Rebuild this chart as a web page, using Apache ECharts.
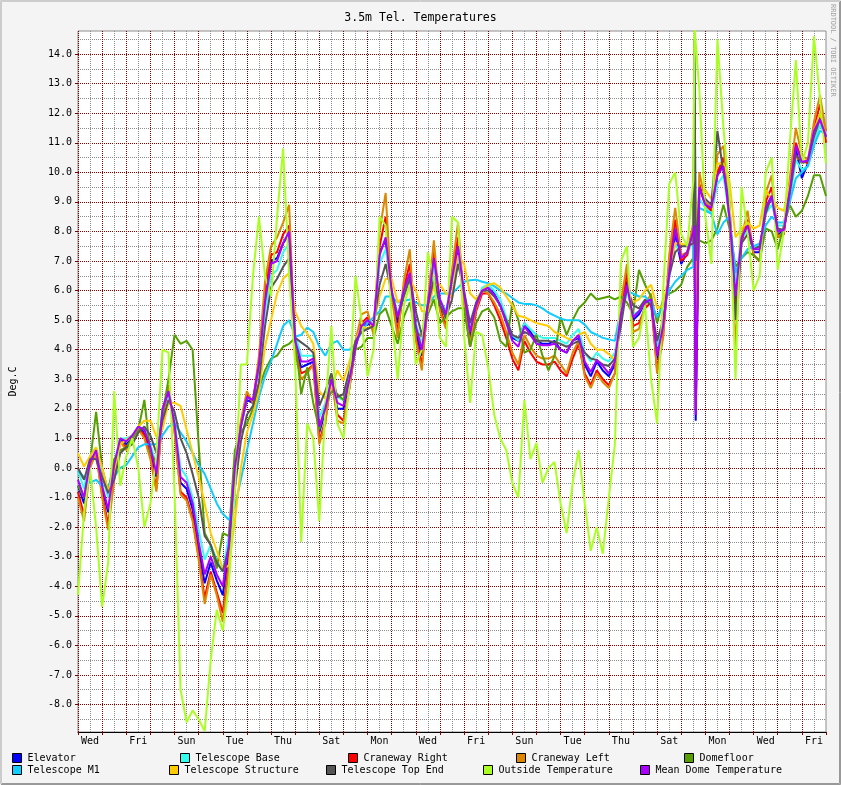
<!DOCTYPE html>
<html><head><meta charset="utf-8">
<script src="https://cdn.jsdelivr.net/npm/echarts@6/dist/echarts.min.js"></script>
<style>html,body{margin:0;padding:0;background:#f4f4f4}#c{width:841px;height:785px}</style>
</head><body><div id="c"></div>
<script>
const chartTitle = '3.5m Tel. Temperatures';
const yAxisName = 'Deg.C';
const creditText = 'RRDTOOL / TOBI OETIKER';
// labels shown at noon of every second day
const dayLabels = ['Wed','Fri','Sun','Tue','Thu','Sat','Mon','Wed','Fri','Sun','Tue','Thu','Sat','Mon','Wed','Fri'];

// sample times in days from the start (quarter-day samples + two samples inside the short glitch)
const sampleDays = [];
for (let i = 0; i <= 102; i++) sampleDays.push(i / 4);
sampleDays.push(25.55, 25.6);
for (let i = 103; i <= 124; i++) sampleDays.push(i / 4);

const elevator = [
-0.6,-1.2,0.2,0.5,-0.7,-1.5,0.0,1.0,0.8,1.0,
1.4,1.2,0.6,-0.3,1.9,2.6,1.4,-0.5,-0.7,-1.4,
-2.7,-3.9,-3.2,-3.8,-4.3,-2.8,0.1,1.4,2.3,2.2,
3.5,5.7,7.0,7.1,7.6,7.9,4.1,3.4,3.5,3.6,
1.2,1.9,3.0,2.0,2.0,2.9,4.1,4.8,4.9,4.7,
7.3,7.7,5.9,4.9,6.0,6.5,4.6,3.8,5.5,7.0,
5.5,5.1,6.4,7.4,5.7,4.4,5.4,6.0,6.1,5.9,
5.5,5.0,4.4,4.3,4.9,4.6,4.3,4.2,4.2,4.3,
4.0,3.9,4.3,4.4,3.5,3.1,3.6,3.3,3.1,3.5,
5.2,6.3,5.0,5.2,5.6,5.7,3.7,4.7,6.7,7.9,
6.9,7.3,8.0,8.3,1.6,9.5,8.9,8.8,9.9,10.3,
8.4,5.7,7.7,8.2,7.3,7.3,8.8,9.2,7.9,8.0,
9.4,10.8,9.8,10.3,11.3,11.9,11.4];

const telescopeBase = [
-0.1,-0.7,0.4,0.7,-0.3,-1.0,0.2,1.0,1.0,1.1,
1.4,1.3,0.8,0.1,2.0,2.4,1.6,0.0,-0.3,-1.0,
-2.1,-3.1,-2.6,-3.1,-3.5,-2.3,0.2,1.4,2.4,2.3,
3.4,5.3,6.5,6.7,7.3,7.6,4.5,3.8,3.8,3.8,
1.7,2.2,3.0,2.4,2.3,3.1,4.1,4.8,5.0,4.9,
6.9,7.4,6.0,5.2,5.9,6.4,4.9,4.2,5.4,6.9,
5.7,5.3,6.3,7.2,5.9,4.8,5.5,6.1,6.2,6.0,
5.7,5.1,4.5,4.3,4.9,4.7,4.5,4.4,4.4,4.4,
4.3,4.2,4.5,4.7,3.9,3.6,3.9,3.7,3.6,3.9,
5.1,6.0,5.2,5.3,5.6,5.6,4.1,4.9,6.4,7.6,
7.2,7.2,7.8,10.5,4.5,9.1,8.8,8.6,9.6,9.9,
8.5,6.3,7.8,8.0,7.5,7.5,8.6,8.9,8.2,8.2,
9.1,10.4,10.1,10.2,11.0,11.6,11.2];

const cranewayRight = [
-0.8,-1.6,0.1,0.5,-0.9,-1.9,-0.3,0.9,0.7,1.0,
1.4,1.1,0.4,-0.7,1.8,2.7,1.3,-0.8,-1.0,-1.7,
-3.0,-4.4,-3.5,-4.2,-4.9,-3.2,-0.2,1.5,2.5,2.2,
3.6,6.0,7.2,7.3,7.9,8.2,4.0,3.2,3.3,3.5,
0.9,1.6,3.0,1.8,1.6,2.7,4.1,4.9,5.1,4.6,
7.5,8.5,5.9,4.6,6.1,6.9,4.4,3.5,5.5,7.3,
5.4,4.8,6.5,7.8,5.6,4.1,5.3,5.9,5.9,5.5,
5.0,4.4,3.7,3.3,4.3,3.9,3.6,3.5,3.5,3.6,
3.3,3.1,3.7,4.2,3.2,2.8,3.3,3.0,2.8,3.2,
5.3,6.6,4.8,4.9,5.4,5.6,3.3,4.5,6.9,8.4,
7.0,7.2,8.1,8.6,2.0,9.6,8.9,8.7,10.0,10.5,
8.5,5.2,7.7,8.4,7.2,7.0,9.0,9.5,7.8,7.9,
9.5,11.0,10.4,10.3,11.5,12.3,11.0];

const cranewayLeft = [
-1.0,-1.8,0.0,0.5,-1.0,-2.1,-0.4,0.9,0.6,1.0,
1.3,1.0,0.3,-0.8,1.8,2.8,1.2,-0.9,-1.1,-1.8,
-3.1,-4.6,-3.6,-4.3,-5.2,-3.4,-0.3,1.6,2.6,2.2,
3.8,6.3,7.5,7.8,8.3,8.9,3.9,3.0,3.2,3.5,
0.8,1.5,3.1,1.6,1.5,2.7,4.3,5.2,5.3,4.5,
8.0,9.3,5.8,4.4,6.3,7.4,4.3,3.3,5.7,7.7,
5.3,4.7,6.7,8.3,5.6,4.2,5.4,6.0,5.9,5.6,
5.2,4.6,3.9,3.5,4.5,4.1,3.8,3.7,3.7,3.8,
3.5,3.2,3.9,4.3,3.1,2.7,3.2,2.9,2.7,3.2,
5.6,6.9,4.6,4.7,5.5,5.9,3.2,4.4,7.2,8.8,
7.2,7.3,8.3,12.4,5.0,10.0,9.0,8.8,10.6,10.9,
8.6,4.1,7.8,8.7,7.2,7.0,9.3,9.9,7.8,8.0,
9.8,11.5,10.6,10.4,11.7,12.6,11.4];

const domefloor = [
-0.6,-1.0,0.2,1.9,0.0,-0.8,0.3,0.6,0.7,1.0,
1.3,2.3,0.5,0.2,1.8,3.0,4.5,4.2,4.3,4.0,
0.8,-2.2,-2.6,-3.4,-2.2,-2.3,0.6,1.2,1.5,2.0,
2.7,3.3,3.7,3.8,4.1,4.2,4.4,2.5,3.4,2.2,
1.3,2.1,2.6,2.5,2.3,3.0,4.0,4.1,4.4,4.4,
5.2,5.4,4.8,4.2,5.1,5.6,4.6,4.45,5.2,5.7,
4.9,5.1,5.3,5.4,5.4,4.1,4.9,5.3,5.4,5.1,
4.3,4.1,5.6,5.0,3.9,4.0,4.5,3.8,3.3,3.8,
5.1,4.5,5.0,5.4,5.6,5.9,5.7,5.75,5.8,5.7,
5.8,5.6,5.2,6.7,6.2,5.8,4.9,5.7,5.9,6.0,
6.2,6.8,7.1,12.0,7.3,7.7,7.6,7.7,8.1,8.9,
8.1,6.8,7.1,7.3,7.2,7.0,8.1,8.0,7.4,8.2,
8.9,8.5,8.7,9.2,9.9,9.9,9.2];

const telescopeM1 = [
-0.1,-0.3,-0.5,-0.4,-0.6,-0.6,-0.3,0.0,0.1,0.4,
0.7,0.8,0.8,0.8,1.1,1.4,1.5,1.2,0.9,0.5,
0.1,-0.2,-0.7,-1.2,-1.55,-1.75,-1.3,-0.4,0.6,1.5,
2.4,3.1,3.6,4.2,4.8,5.0,4.45,4.5,4.75,4.6,
4.1,3.8,4.2,4.3,4.0,4.0,4.2,4.6,4.9,5.1,
5.3,5.8,5.8,5.6,5.65,5.7,5.6,5.5,5.5,5.8,
5.9,5.9,5.9,6.1,6.3,6.35,6.37,6.3,6.25,6.15,
6.0,5.9,5.75,5.6,5.55,5.55,5.5,5.4,5.25,5.15,
5.05,5.0,5.0,5.0,4.85,4.6,4.5,4.4,4.35,4.3,
5.4,6.0,5.9,5.8,5.8,5.6,5.1,5.5,6.0,6.3,
6.5,6.7,6.8,13.7,7.5,8.8,8.7,8.6,7.9,8.3,
8.5,6.6,7.1,7.4,7.5,7.6,8.2,8.5,8.3,8.3,
9.0,9.8,10.0,10.2,10.9,11.4,11.3];

const telescopeStructure = [
0.5,0.05,0.4,0.7,0.0,-0.8,-0.1,0.8,0.95,1.1,
1.4,1.6,1.6,1.05,1.3,2.2,2.2,2.1,1.3,0.5,
-0.3,-1.2,-2.2,-2.8,-3.4,-3.3,-1.8,0.0,1.2,1.8,
2.6,4.1,5.0,5.9,6.4,6.6,5.3,4.8,4.55,4.2,
2.6,2.35,2.7,3.3,2.95,3.6,4.3,4.8,4.7,4.9,
5.8,6.4,6.4,5.6,5.8,6.4,6.0,5.3,5.3,6.2,
6.2,5.9,5.8,7.2,6.9,5.9,5.7,6.0,6.2,6.25,
6.1,5.8,5.5,5.15,5.1,5.0,4.9,4.85,4.8,4.6,
4.5,4.4,4.3,4.5,4.6,4.2,4.0,4.0,3.85,3.65,
5.3,6.1,5.6,5.7,6.0,6.2,5.4,5.5,6.6,7.6,
7.6,7.5,7.6,11.0,8.0,9.2,9.4,9.1,10.3,10.3,
9.7,7.8,8.1,8.3,8.1,8.2,9.4,9.1,8.8,8.7,
9.6,10.5,10.4,10.4,11.4,12.0,11.2];

const telescopeTopEnd = [
0.0,-0.4,0.3,0.3,-0.3,-0.85,-0.4,0.5,0.7,0.8,
1.2,1.4,1.1,0.5,1.6,2.3,1.9,1.0,0.5,-0.2,
-1.0,-2.3,-2.6,-3.2,-3.5,-2.7,-0.7,0.9,1.8,2.1,
2.9,4.8,6.1,6.4,6.8,7.1,4.4,4.25,4.1,3.9,
2.1,2.6,3.2,2.4,2.5,3.3,4.3,4.6,4.7,4.8,
6.2,6.9,5.9,5.1,5.8,6.4,5.3,4.5,5.5,6.4,
5.5,5.1,5.7,6.9,6.0,4.9,5.6,6.0,6.0,5.8,
5.5,5.0,4.5,4.4,4.6,4.5,4.3,4.3,4.3,4.25,
4.2,4.1,4.2,4.3,3.9,3.7,3.65,3.5,3.45,3.7,
4.8,6.1,5.5,5.4,5.7,5.5,4.3,5.0,6.5,7.3,
7.5,7.5,7.6,14.5,7.0,9.4,9.1,8.9,11.4,10.0,
9.0,5.0,7.6,7.9,7.4,7.5,8.6,9.2,8.1,8.05,
9.3,10.6,10.3,10.4,11.2,11.8,11.2];

const outsideTemperature = [
-4.3,-1.5,0.0,-2.0,-4.7,-3.2,2.6,-0.6,0.4,1.0,
0.0,-2.0,-1.2,0.4,4.0,3.9,-0.8,-7.5,-8.6,-8.2,
-8.5,-8.9,-6.5,-4.8,-5.5,-4.0,-0.8,3.5,3.5,6.5,
8.5,6.5,5.8,8.5,10.8,6.5,3.5,-2.5,1.5,1.0,
-1.8,2.0,4.8,1.5,1.0,2.8,6.5,5.0,3.1,4.0,
8.5,8.2,5.1,3.0,5.5,6.2,3.5,4.0,7.3,6.4,
4.4,4.1,8.5,8.3,4.5,2.2,4.6,4.5,3.4,1.8,
1.0,0.6,-0.5,-1.0,2.3,0.3,0.85,-0.5,0.0,0.2,
-1.2,-2.2,-0.5,0.6,-1.2,-2.8,-2.0,-2.9,-1.0,0.8,
7.0,7.5,4.1,4.4,5.5,3.0,1.5,6.0,9.6,10.0,
7.9,7.5,9.7,14.9,14.9,12.8,8.5,6.9,14.5,11.5,
9.2,3.0,9.5,8.0,6.0,6.5,10.0,10.5,6.7,8.0,
11.0,13.8,10.3,11.0,14.6,12.5,10.3];

const meanDomeTemperature = [
-0.4,-1.0,0.2,0.6,-0.6,-1.4,0.1,1.0,0.9,1.1,
1.4,1.3,0.7,-0.2,2.0,2.6,1.5,-0.3,-0.5,-1.2,
-2.5,-3.6,-3.0,-3.6,-4.0,-2.6,0.0,1.4,2.4,2.3,
3.5,5.6,6.9,7.0,7.6,8.0,4.3,3.6,3.6,3.7,
1.4,2.0,3.0,2.2,2.1,3.0,4.1,4.8,5.0,4.8,
7.2,7.8,6.0,5.1,6.0,6.6,4.8,4.0,5.5,7.1,
5.7,5.2,6.4,7.5,5.9,4.6,5.5,6.0,6.1,5.85,
5.5,4.9,4.3,4.1,4.8,4.5,4.2,4.15,4.15,4.2,
4.0,3.9,4.3,4.5,3.6,3.25,3.65,3.45,3.2,3.6,
5.2,6.2,5.1,5.3,5.6,5.7,3.8,4.8,6.6,8.1,
7.1,7.3,8.0,8.2,1.8,9.5,8.9,8.8,9.9,10.2,
8.5,5.8,7.8,8.2,7.4,7.4,8.8,9.2,8.0,8.05,
9.4,10.9,10.35,10.4,11.4,11.8,11.2];

const seriesNames = ['Elevator','Telescope Base','Craneway Right','Craneway Left','Domefloor',
  'Telescope M1','Telescope Structure','Telescope Top End','Outside Temperature','Mean Dome Temperature'];
const seriesValues = [elevator, telescopeBase, cranewayRight, cranewayLeft, domefloor,
  telescopeM1, telescopeStructure, telescopeTopEnd, outsideTemperature, meanDomeTemperature];

// styles / layout
const colors = ['#0000ff','#33ffee','#ff0000','#dd8800','#55a000','#11ccff','#ffcc00','#555555','#aaff22','#aa00ff'];
const legendPos = [[12,753],[180,753],[348,753],[516,753],[684,753],[12,765],[169,765],[326,765],[483,765],[640,765]];
const FONT = 'DejaVu Sans Mono';
const MAJOR = '#800000', MINOR = '#8c8c8c';
const Y_MIN = -8.93, Y_MAX = 14.78;

const chart = echarts.init(document.getElementById('c'), null, {renderer: 'canvas'});

const series = seriesNames.map((n, k) => ({
  name: n, type: 'line', xAxisIndex: 1, yAxisIndex: 1,
  data: sampleDays.map((d, i) => [d, seriesValues[k][i]]),
  showSymbol: false, symbol: 'none', clip: true, animation: false, silent: true,
  lineStyle: {width: 2, color: colors[k]}, itemStyle: {color: colors[k]}
}));

const legends = seriesNames.map((n, k) => ({
  data: [{name: n, itemStyle: {color: colors[k], borderColor: '#000', borderWidth: 1}}],
  left: legendPos[k][0], top: legendPos[k][1], padding: 0, icon: 'rect',
  itemWidth: 9, itemHeight: 9, selectedMode: false,
  textStyle: {fontFamily: FONT, fontSize: 10, color: '#000', padding: [0,0,0,1]}
}));

const option = {
  backgroundColor: '#f4f4f4',
  animation: false,
  title: {text: chartTitle, left: 'center', top: 7,
    textStyle: {fontFamily: FONT, fontSize: 11.5, fontWeight: 'normal', color: '#000'}},
  legend: legends,
  grid: {left: 75, right: 15, top: 31, bottom: 53, show: true, backgroundColor: '#fff',
    borderColor: '#8c8c8c', borderWidth: 1},
  xAxis: [
    {type: 'value', min: 0, max: 31, interval: 0.5, position: 'bottom',
     axisLine: {show: false, onZero: false}, axisTick: {show: false},
     splitLine: {show: true, showMinLine: false, showMaxLine: false, lineStyle: {color: MINOR, width: 1, type: [1,1]}},
     axisLabel: {show: true, interval: 0, hideOverlap: false, margin: 4, fontFamily: FONT, fontSize: 10, color: '#000',
       formatter: v => { const k = (v - 0.5) / 2; const r = Math.round(k);
         return (Math.abs(k - r) < 1e-6 && r >= 0 && r < dayLabels.length) ? dayLabels[r] : ''; }}},
    {type: 'value', min: 0, max: 31, interval: 1, position: 'bottom',
     axisLine: {show: true, onZero: false, lineStyle: {color: '#000', width: 1}},
     axisTick: {show: true, length: 3, lineStyle: {color: MAJOR}},
     axisLabel: {show: false},
     splitLine: {show: true, showMinLine: true, showMaxLine: false, lineStyle: {color: MAJOR, width: 1, type: [1,1]}}}
  ],
  yAxis: [
    {type: 'value', min: Y_MIN, max: Y_MAX, minInterval: 0.5, maxInterval: 0.5, position: 'left',
     axisLine: {show: false, onZero: false}, axisTick: {show: false}, axisLabel: {show: false},
     splitLine: {show: true, showMinLine: false, showMaxLine: false, lineStyle: {color: MINOR, width: 1, type: [1,1]}}},
    {type: 'value', min: Y_MIN, max: Y_MAX, minInterval: 1, maxInterval: 1, position: 'left',
     name: yAxisName, nameLocation: 'middle', nameGap: 60, nameRotate: 90,
     nameTextStyle: {fontFamily: FONT, fontSize: 10, color: '#000'},
     axisLine: {show: false, onZero: false},
     axisTick: {show: true, length: 3, lineStyle: {color: MAJOR}},
     axisLabel: {showMinLabel: false, showMaxLabel: false, margin: 6, fontFamily: FONT, fontSize: 10, color: '#000',
       formatter: v => v.toFixed(1)},
     splitLine: {show: true, showMinLine: false, showMaxLine: false, lineStyle: {color: MAJOR, width: 1, type: [1,1]}}}
  ],
  graphic: [
    {type: 'text', left: 829, top: 4, rotation: -Math.PI / 2, originX: 0, originY: 0,
     style: {text: creditText, fontFamily: FONT, fontSize: 7, fill: '#a0a0a0'}},
    {type: 'polyline', shape: {points: [[0.5,784],[0.5,0.5],[840.5,0.5]]}, style: {stroke: '#cccccc', lineWidth: 1, fill: null}, silent: true},
    {type: 'polyline', shape: {points: [[1.5,784],[1.5,1.5],[840,1.5]]}, style: {stroke: '#cccccc', lineWidth: 1, fill: null}, silent: true},
    {type: 'polyline', shape: {points: [[1,784.5],[840.5,784.5],[840.5,1]]}, style: {stroke: '#999999', lineWidth: 1, fill: null}, silent: true},
    {type: 'polyline', shape: {points: [[2,783.5],[839.5,783.5],[839.5,2]]}, style: {stroke: '#999999', lineWidth: 1, fill: null}, silent: true}
  ],
  series: series
};
chart.setOption(option);
</script>
</body></html>
